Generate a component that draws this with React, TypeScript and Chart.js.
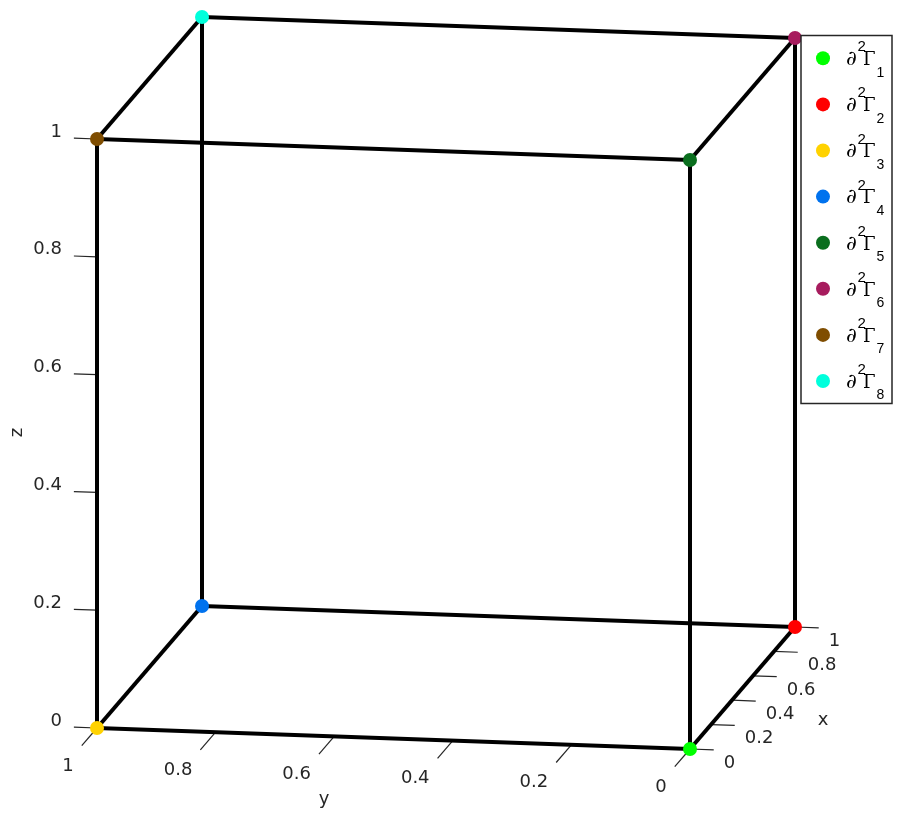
import React, { useEffect, useRef } from 'react';
import { Chart, registerables } from 'chart.js';
Chart.register(...registerables);

// ---- data ----
const seriesIndex = ['1', '2', '3', '4', '5', '6', '7', '8'];
const pointX = [0, 1, 0, 1, 0, 1, 0, 1];
const pointY = [0, 0, 1, 1, 0, 0, 1, 1];
const pointZ = [0, 0, 0, 0, 1, 1, 1, 1];
const pointColors = ['#00ff00', '#ff0000', '#ffd200', '#0072ee', '#0a6e1e', '#a71c5e', '#7f4d00', '#00ffdc'];
const edgePairs = [[0, 1], [2, 3], [0, 2], [1, 3], [4, 5], [6, 7], [4, 6], [5, 7], [0, 4], [1, 5], [2, 6], [3, 7]];
const tickValues = [0, 0.2, 0.4, 0.6, 0.8, 1];
const tickLabels = ['0', '0.2', '0.4', '0.6', '0.8', '1'];
const axisTitles = ['x', 'y', 'z'];

// ---- layout / view ----
const W = 903;
const H = 822;
const ORIGIN = [690, 749];
const EX = [105, -122];
const EY = [-593, -21];
const EZ = [0, -589];
const TEXT = '#262626';
const FONT = '"DejaVu Sans", sans-serif';

function project(x: number, y: number, z: number) {
  return {
    x: ORIGIN[0] + x * EX[0] + y * EY[0] + z * EZ[0],
    y: ORIGIN[1] + x * EX[1] + y * EY[1] + z * EZ[1],
  };
}

function toPx(chart: any, p: { x: number; y: number }) {
  return { x: chart.scales.x.getPixelForValue(p.x), y: chart.scales.y.getPixelForValue(p.y) };
}

const axesPlugin = {
  id: 'axes3d',
  beforeDatasetsDraw(chart: any) {
    const ctx = chart.ctx;
    ctx.save();
    ctx.strokeStyle = TEXT;
    ctx.lineWidth = 1.2;
    const seg = (a: any, b: any) => {
      const p = toPx(chart, a);
      const q = toPx(chart, b);
      ctx.beginPath();
      ctx.moveTo(p.x, p.y);
      ctx.lineTo(q.x, q.y);
      ctx.stroke();
    };
    tickValues.forEach((t) => {
      seg(project(0, 1, t), project(0, 1.039, t));
      seg(project(0, t, 0), project(-0.145, t, 0));
      seg(project(t, 0, 0), project(t, -0.04, 0));
    });
    ctx.restore();
  },
  afterDraw(chart: any) {
    const ctx = chart.ctx;
    ctx.save();
    ctx.fillStyle = TEXT;
    ctx.font = `18px ${FONT}`;
    ctx.textBaseline = 'alphabetic';
    tickValues.forEach((t, i) => {
      const ze = toPx(chart, project(0, 1.039, t));
      ctx.textAlign = 'right';
      ctx.fillText(tickLabels[i], ze.x - 12, ze.y - 1.5);
      const ye = toPx(chart, project(-0.145, t, 0));
      ctx.textAlign = 'right';
      ctx.fillText(tickLabels[i], ye.x - 8, ye.y + 25);
      const xe = toPx(chart, project(t, -0.04, 0));
      ctx.textAlign = 'left';
      ctx.fillText(tickLabels[i], xe.x + 10, xe.y + 18);
    });
    // axis titles
    ctx.textAlign = 'center';
    ctx.textBaseline = 'middle';
    const xm = toPx(chart, project(0.5, 0, 0));
    ctx.fillText(axisTitles[0], xm.x + 80.5, xm.y + 32);
    const ym = toPx(chart, project(0, 0.5, 0));
    ctx.fillText(axisTitles[1], ym.x - 69.5, ym.y + 61);
    const zm = toPx(chart, project(0, 1, 0.5));
    ctx.save();
    ctx.translate(17, zm.y - 1);
    ctx.rotate(-Math.PI / 2);
    ctx.fillText(axisTitles[2], 0, 0);
    ctx.restore();

    // legend
    const lx = 801, ly = 35.5, lw = 91, lh = 368;
    ctx.fillStyle = '#ffffff';
    ctx.fillRect(lx, ly, lw, lh);
    ctx.strokeStyle = TEXT;
    ctx.lineWidth = 1.5;
    ctx.strokeRect(lx, ly, lw, lh);
    ctx.textAlign = 'left';
    ctx.textBaseline = 'alphabetic';
    seriesIndex.forEach((s, i) => {
      const cy = 58.3 + i * 46.1;
      ctx.fillStyle = pointColors[i];
      ctx.beginPath();
      ctx.arc(823, cy, 7, 0, Math.PI * 2);
      ctx.fill();
      ctx.fillStyle = '#000000';
      ctx.font = '21px "DejaVu Serif", serif';
      ctx.fillText('∂', 846, cy + 6.8);
      ctx.font = '15px "Liberation Sans", sans-serif';
      ctx.fillText('2', 857.5, cy - 7);
      ctx.font = '18px "DejaVu Serif", serif';
      ctx.fillText('Γ', 863, cy + 6.8);
      ctx.font = '14px "Liberation Sans", sans-serif';
      ctx.fillText(s, 876.5, cy + 18.4);
    });
    ctx.restore();
  },
};

export default function App() {
  const ref = useRef<HTMLCanvasElement | null>(null);
  useEffect(() => {
    if (!ref.current) return;
    const edgeSets = edgePairs.map(([a, b]) => ({
      data: [project(pointX[a], pointY[a], pointZ[a]), project(pointX[b], pointY[b], pointZ[b])],
      showLine: true,
      borderColor: '#000000',
      borderWidth: 4,
      pointRadius: 0,
      order: 2,
    }));
    const pointSets = pointColors.map((c, i) => ({
      label: '∂²Γ' + seriesIndex[i],
      data: [project(pointX[i], pointY[i], pointZ[i])],
      pointRadius: 7,
      pointBackgroundColor: c,
      backgroundColor: c,
      borderWidth: 0,
      pointBorderWidth: 0,
      order: 1,
    }));
    const chart = new Chart(ref.current, {
      type: 'scatter',
      data: { datasets: [...edgeSets, ...pointSets] as any },
      options: {
        animation: false,
        responsive: false,
        devicePixelRatio: 1,
        layout: { padding: 0, autoPadding: false },
        plugins: { legend: { display: false }, tooltip: { enabled: false } },
        scales: {
          x: { type: 'linear', min: 0, max: W, display: false },
          y: { type: 'linear', min: 0, max: H, reverse: true, display: false },
        },
      },
      plugins: [axesPlugin],
    });
    return () => chart.destroy();
  }, []);
  return (
    <div style={{ position: 'fixed', left: 0, top: 0, width: W, height: H, background: '#fff' }}>
      <canvas ref={ref} width={W} height={H} />
    </div>
  );
}
